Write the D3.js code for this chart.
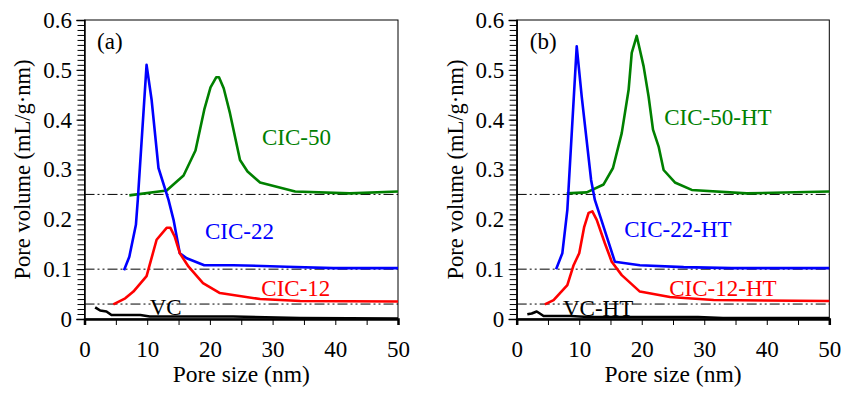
<!DOCTYPE html>
<html lang="en">
<head>
    <meta charset="UTF-8">
    <title>Pore size distribution</title>
    <script src="https://d3js.org/d3.v7.min.js"></script>
    <style>
        body {
            margin: 0;
            background-color: #ffffff;
        }

        svg {
            font-family: "Liberation Serif", "Times New Roman", serif;
        }

        .axis text {
            font-size: 23px;
            font-family: "Liberation Serif", "Times New Roman", serif;
            fill: #000;
        }

        .axis path,
        .axis line {
            stroke: #000;
        }

        .curve {
            fill: none;
            stroke-width: 2.6px;
            stroke-linejoin: round;
        }

        .ref-line {
            stroke: #000;
            stroke-width: 1px;
            stroke-dasharray: 10, 3, 2, 3, 2, 3;
        }
    </style>
</head>
<body>
<svg width="855" height="397"></svg>
<script>
    // x ticks and y ticks
    const xTicks = [0, 10, 20, 30, 40, 50];
    const yTicks = [0, 0.1, 0.2, 0.3, 0.4, 0.5, 0.6];
    const refLevels = [0.25, 0.1, 0.03];

    // panel (a): [pore size nm, pore volume as plotted (offset included)]
    const cic50 = [[7.15, 0.248], [13.1, 0.258], [15.8, 0.288], [17.7, 0.338], [19.1, 0.42], [20.1, 0.465],
        [21.0, 0.485], [21.45, 0.485], [22.2, 0.463], [23.2, 0.413], [24.8, 0.319], [26.0, 0.296],
        [28.0, 0.274], [33.6, 0.256], [42.3, 0.252], [50, 0.256]];
    const cic22 = [[6.3, 0.098], [7.15, 0.125], [8.2, 0.189], [8.5, 0.239], [9.9, 0.51], [10.7, 0.44],
        [11.8, 0.303], [13.4, 0.239], [14.2, 0.199], [15.2, 0.132], [16.3, 0.122], [19.1, 0.108],
        [23.7, 0.108], [32.2, 0.105], [39.7, 0.102], [50, 0.102]];
    const cic12 = [[4.6, 0.0295], [6.5, 0.0415], [7.8, 0.055], [9.9, 0.086], [11.5, 0.159], [13.1, 0.183],
        [13.7, 0.183], [14.4, 0.165], [15.2, 0.132], [16.6, 0.105], [18.9, 0.072], [21.6, 0.052],
        [28.0, 0.040], [34.4, 0.036], [50, 0.035]];
    const vc = [[1.7, 0.0235], [2.5, 0.017], [3.5, 0.015], [4.3, 0.008], [8.9, 0.008], [10.4, 0.005],
        [23.7, 0.005], [34.4, 0.002], [50, 0.001]];

    // panel (b)
    const cic50ht = [[8.0, 0.252], [11.2, 0.254], [13.9, 0.27], [15.4, 0.303], [16.8, 0.373], [17.9, 0.46],
        [18.4, 0.534], [19.2, 0.568], [20.3, 0.507], [21.1, 0.446], [21.8, 0.38], [22.7, 0.346],
        [23.5, 0.299], [25.3, 0.274], [28.0, 0.259], [36.8, 0.252], [50, 0.256]];
    const cic22ht = [[6.3, 0.1], [7.3, 0.132], [8.1, 0.219], [9.6, 0.547], [10.4, 0.446], [11.9, 0.279],
        [12.5, 0.239], [13.9, 0.185], [15.7, 0.115], [19.7, 0.108], [26.7, 0.104], [34.4, 0.102],
        [50, 0.102]];
    const cic12ht = [[4.5, 0.0295], [5.9, 0.038], [8.1, 0.068], [9.1, 0.108], [10.0, 0.132], [10.8, 0.185],
        [11.5, 0.213], [12.1, 0.216], [12.8, 0.199], [14.1, 0.152], [15.2, 0.115], [16.8, 0.088],
        [19.7, 0.055], [24.5, 0.044], [31.5, 0.038], [50, 0.036]];
    const vcht = [[1.7, 0.0094], [2.4, 0.011], [3.2, 0.015], [3.7, 0.011], [4.3, 0.006], [8.6, 0.006],
        [11.5, 0.004], [29, 0.004], [33, 0.002], [50, 0.002]];

    const panels = [
        {
            left: 84.5, right: 398, tag: "(a)", tagAt: [2.0, 0.542],
            series: [
                {data: cic50, color: "#008000", label: "CIC-50", at: [28.3, 0.349]},
                {data: cic22, color: "#0000ff", label: "CIC-22", at: [19.2, 0.16]},
                {data: cic12, color: "#ff0000", label: "CIC-12", at: [28.2, 0.046]},
                {data: vc, color: "#000000", label: "VC", at: [10.4, 0.008]}
            ]
        },
        {
            left: 516.7, right: 829.3, tag: "(b)", tagAt: [2.1, 0.542],
            series: [
                {data: cic50ht, color: "#008000", label: "CIC-50-HT", at: [23.6, 0.39]},
                {data: cic22ht, color: "#0000ff", label: "CIC-22-HT", at: [17.2, 0.165]},
                {data: cic12ht, color: "#ff0000", label: "CIC-12-HT", at: [24.4, 0.046]},
                {data: vcht, color: "#000000", label: "VC-HT", at: [7.4, 0.006]}
            ]
        }
    ];

    const svg = d3.select("svg");
    const plotTop = 20, plotBottom = 319;

    panels.forEach(function(p) {
        const w = p.right - p.left, h = plotBottom - plotTop;
        const g = svg.append("g").attr("transform", `translate(${p.left},${plotTop})`);
        const x = d3.scaleLinear().domain([0, 50]).range([0, w]);
        const y = d3.scaleLinear().domain([0, 0.6]).range([h, 0]);

        // frame
        g.append("rect")
            .attr("width", w).attr("height", h)
            .attr("fill", "none").attr("stroke", "#000").attr("stroke-width", 1);

        // dash-dot reference lines
        g.selectAll(".ref-line").data(refLevels).join("line")
            .attr("class", "ref-line")
            .attr("x1", x(0)).attr("x2", x(50))
            .attr("y1", d => y(d)).attr("y2", d => y(d));

        // minor ticks
        g.append("g").attr("class", "axis")
            .call(d3.axisLeft(y).tickValues(d3.range(0, 0.601, 0.01)).tickSize(7).tickFormat(""))
            .call(s => s.select(".domain").remove());
        g.append("g").attr("class", "axis")
            .attr("transform", `translate(0,${h})`)
            .call(d3.axisBottom(x).tickValues(d3.range(5, 50, 10)).tickSize(6).tickFormat(""))
            .call(s => s.select(".domain").remove());

        // major axes
        g.append("g").attr("class", "axis")
            .call(d3.axisLeft(y).tickValues(yTicks).tickSize(8).tickPadding(4.5).tickFormat(d => d === 0 ? "0" : d3.format(".1f")(d)))
            .call(s => s.select(".domain").attr("stroke-width", 1.5));
        g.append("g").attr("class", "axis")
            .attr("transform", `translate(0,${h})`)
            .call(d3.axisBottom(x).tickValues(xTicks).tickSize(6).tickPadding(16))
            .call(s => s.select(".domain").attr("stroke-width", 2.5));

        const line = d3.line().x(d => x(d[0])).y(d => y(d[1]));

        p.series.forEach(function(s) {
            g.append("path")
                .datum(s.data)
                .attr("class", "curve")
                .attr("stroke", s.color)
                .attr("d", line);
            g.append("text")
                .attr("x", x(s.at[0])).attr("y", y(s.at[1]))
                .attr("fill", s.color)
                .attr("font-size", 23)
                .text(s.label);
        });

        g.append("text")
            .attr("x", x(p.tagAt[0])).attr("y", y(p.tagAt[1]))
            .attr("font-size", 23)
            .text(p.tag);

        // axis titles
        svg.append("text")
            .attr("transform", `translate(${p.left - 62},${plotTop + h / 2}) rotate(-90)`)
            .attr("text-anchor", "middle")
            .attr("dy", "0.35em")
            .attr("font-size", 22.5)
            .text("Pore volume (mL/g·nm)");
        svg.append("text")
            .attr("x", p.left + w / 2).attr("y", 382)
            .attr("text-anchor", "middle")
            .attr("font-size", 23.5)
            .text("Pore size (nm)");
    });
</script>
</body>
</html>
